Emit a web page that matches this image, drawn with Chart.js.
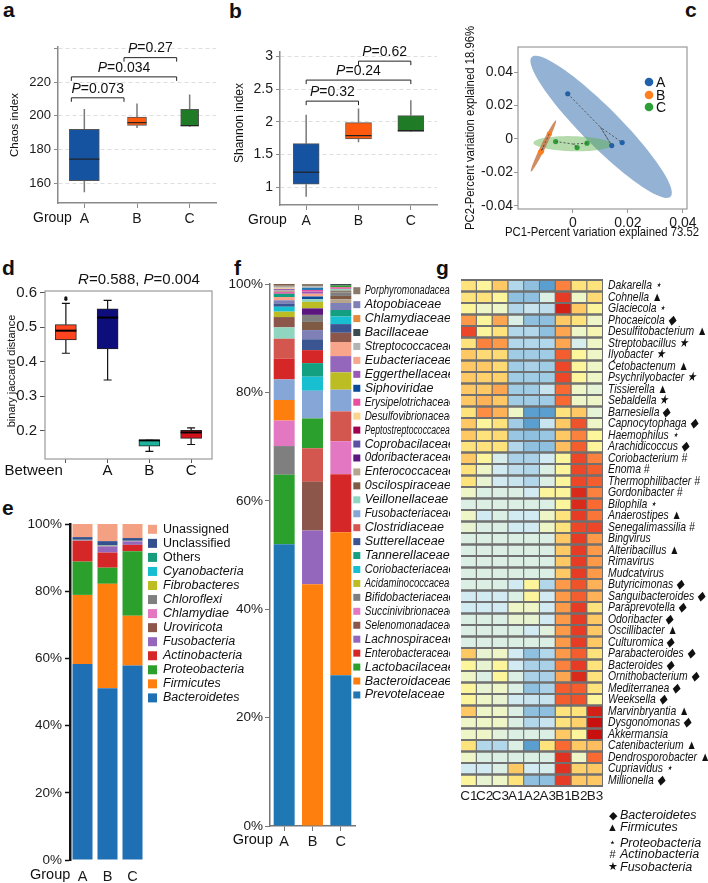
<!DOCTYPE html>
<html lang="en">
<head>
<meta charset="UTF-8">
<title>Gut microbiota of groups A, B and C</title>
<style>
    body, html { margin: 0; background: #fff; }
    body { position: relative; width: 708px; height: 883px; overflow: hidden;
           font-family: "Liberation Sans", Arial, sans-serif; }
    canvas { position: absolute; }
    .tag { position: absolute; font-size: 21px; line-height: 21px; font-weight: bold; color: #111; }
</style>
</head>
<body>
<div class="tag" style="left:3px;top:-1px">a</div>
<div class="tag" style="left:229px;top:0px">b</div>
<div class="tag" style="left:685px;top:-1px">c</div>
<div class="tag" style="left:2px;top:257px">d</div>
<div class="tag" style="left:2px;top:497px">e</div>
<div class="tag" style="left:234px;top:257px">f</div>
<div class="tag" style="left:436px;top:257px">g</div>

<canvas id="pa" width="232" height="240" style="left:0;top:0"></canvas>
<canvas id="pb" width="228" height="240" style="left:232px;top:0"></canvas>
<canvas id="pc" width="248" height="240" style="left:460px;top:0"></canvas>
<canvas id="pd" width="237" height="235" style="left:0;top:250px"></canvas>
<canvas id="pe" width="250" height="383" style="left:0;top:500px"></canvas>
<canvas id="pf" width="222" height="633" style="left:228px;top:250px"></canvas>
<canvas id="pg" width="253" height="633" style="left:455px;top:250px"></canvas>

<script src="https://cdn.jsdelivr.net/npm/chart.js"></script>
<script>
// ---------- a: Chaos index ----------
const groups = ['A', 'B', 'C'];
const chaosMin = [154.7, 192.8, 193.6];
const chaosQ1  = [161.6, 194.4, 194.0];
const chaosMed = [174.4, 196.0, 194.2];
const chaosQ3  = [192.1, 199.3, 203.9];
const chaosMax = [204.1, 207.4, 212.7];
const chaosTicks = [160, 180, 200, 220, 240];
const chaosP = ['0.073', '0.034', '0.27'];

// ---------- b: Shannon index ----------
const shannonMin = [0.856, 1.687, 1.846];
const shannonQ1  = [1.046, 1.738, 1.856];
const shannonMed = [1.23, 1.79, 1.867];
const shannonQ3  = [1.667, 1.99, 2.097];
const shannonMax = [2.11, 2.205, 2.333];
const shannonTicks = [1, 1.5, 2, 2.5, 3];
const shannonP = ['0.32', '0.24', '0.62'];
const testPairs = [[0, 1], [0, 2], [1, 2]];

// ---------- c: PCoA ----------
const pc1A = [-0.0019, 0.0141, 0.0179];
const pc2A = [0.027, -0.004, -0.0022];
const pc1B = [-0.0086, -0.0114, -0.0118];
const pc2B = [0.003, -0.0072, -0.008];
const pc1C = [-0.0063, 0.0015, 0.0051];
const pc2C = [-0.0016, -0.0052, -0.0026];
// confidence ellipses: centre, major and minor semi-axis vectors (data units)
const ellipseX = [0.01025, -0.01075, -0.0001];
const ellipseY = [0.0072, -0.0043, -0.0029];
const ellipseMajor = [[0.02525, -0.0418], [0.00455, 0.0153], [0.0143, -0.0006]];
const ellipseMinor = [[0.0049, 0.0081], [0.0008, -0.0006], [0.0002, 0.0045]];
const pcTicksX = [0, 0.02, 0.04];
const pcTicksY = [-0.04, -0.02, 0, 0.02, 0.04];

// ---------- d: binary jaccard distance ----------
const jacGroups = ['Between', 'A', 'B', 'C'];
const jacMin = [0.4246, 0.347, 0.140, 0.160];
const jacQ1  = [0.463, 0.437, 0.155, 0.178];
const jacMed = [0.490, 0.528, 0.172, 0.195];
const jacQ3  = [0.5075, 0.553, 0.172, 0.201];
const jacMax = [0.569, 0.578, 0.172, 0.208];
const jacOutliers = [0.581, 0.5855];   // group "Between"
const jacTicks = [0.2, 0.3, 0.4, 0.5, 0.6];

// ---------- e: phylum composition (stack bottom -> top) ----------
const phyla = ['Bacteroidetes', 'Firmicutes', 'Proteobacteria', 'Actinobacteria', 'Fusobacteria',
  'Uroviricota', 'Chlamydiae', 'Chloroflexi', 'Fibrobacteres', 'Cyanobacteria', 'Others',
  'Unclassified', 'Unassigned'];
const phylumA = [58.3, 20.6, 9.9, 6.2, 0.1, 0.05, 0.02, 0.05, 0.05, 0.02, 0.01, 0.8, 3.9];
const phylumB = [51.1, 31.1, 4.8, 4.5, 1.8, 0.1, 0.05, 0.1, 0.05, 0.05, 0.05, 1.2, 5.1];
const phylumC = [57.9, 14.8, 19.2, 1.9, 1.0, 0.05, 0.05, 0.05, 0.03, 0.02, 0.02, 0.8, 4.18];
const phylumColors = ['#1f6fb4', '#ff7f0e', '#2ca02c', '#d62728', '#9467bd', '#8c564b', '#e377c2',
  '#7f7f7f', '#bcbd22', '#17becf', '#179c7d', '#34508f', '#f4a083'];
const percentTicks = [0, 20, 40, 60, 80, 100];

// ---------- f: family composition ----------
const families = ['Porphyromonadaceae', 'Atopobiaceae', 'Chlamydiaceae', 'Bacillaceae', 'Streptococcaceae',
  'Eubacteriaceae', 'Eggerthellaceae', 'Siphoviridae', 'Erysipelotrichaceae', 'Desulfovibrionaceae',
  'Peptostreptococcaceae', 'Coprobacilaceae', '0doribacteraceae', 'Enterococcaceae', '0scilospiraceae',
  'Veillonellaceae', 'Fusobacteriaceae', 'Clostridiaceae', 'Sutterellaceae', 'Tannerellaceae',
  'Coriobacteriaceae', 'Acidaminococcaceae', 'Bifidobacteriaceae', 'Succinivibrionaceae', 'Selenomonadaceae',
  'Lachnospiraceae', 'Enterobacteraceae', 'Lactobacilaceae', 'Bacteroidaceae', 'Prevotelaceae'];
const familyColors = ['#8a7a6a', '#7f80b8', '#e58a3a', '#3c4b50', '#b0b4b4',
  '#f8a58c', '#9b58b5', '#0a4c99', '#ea4e9e', '#fdd48c',
  '#a10050', '#5c50a2', '#5c1680', '#b5a58c', '#7f5a44',
  '#90d5c0', '#86a6d8', '#d4574f', '#3a5592', '#12a080',
  '#18bfd0', '#bcbd22', '#7f7f7f', '#e377c2', '#8c564b',
  '#9467bd', '#d62728', '#2ca02c', '#ff7f0e', '#1f77b4'];
// each group stacked bottom -> top in its own order
const famA = ['Prevotelaceae', 'Lactobacilaceae', 'Bifidobacteriaceae', 'Succinivibrionaceae', 'Bacteroidaceae',
  'Fusobacteriaceae', 'Enterobacteraceae', 'Clostridiaceae', 'Veillonellaceae', 'Selenomonadaceae',
  'Acidaminococcaceae', 'Coriobacteriaceae', 'Sutterellaceae', 'Atopobiaceae', 'Eubacteriaceae',
  'Tannerellaceae', 'Erysipelotrichaceae', 'Enterococcaceae', 'Lachnospiraceae', 'Desulfovibrionaceae',
  'Streptococcaceae', 'Porphyromonadaceae', '0scilospiraceae'];
const shareA = [52.0, 12.8, 5.3, 4.7, 3.8, 3.8, 3.8, 3.7, 2.1, 1.9, 1.0, 0.9, 0.6, 0.6, 0.6, 0.6,
  0.3, 0.3, 0.3, 0.2, 0.2, 0.2, 0.3];
const famB = ['Bacteroidaceae', 'Lachnospiraceae', 'Selenomonadaceae', 'Clostridiaceae', 'Lactobacilaceae',
  'Fusobacteriaceae', 'Coriobacteriaceae', 'Tannerellaceae', 'Enterobacteraceae', 'Sutterellaceae',
  'Atopobiaceae', '0scilospiraceae', 'Bifidobacteriaceae', '0doribacteraceae', 'Acidaminococcaceae',
  'Veillonellaceae', 'Siphoviridae', 'Eubacteriaceae', 'Eggerthellaceae', 'Erysipelotrichaceae',
  'Prevotelaceae', 'Streptococcaceae', 'Porphyromonadaceae'];
const shareB = [44.6, 9.9, 9.0, 6.2, 5.5, 5.1, 2.6, 2.5, 2.4, 2.0, 1.7, 1.5, 1.3, 1.2, 1.2,
  0.5, 0.5, 0.5, 0.4, 0.3, 0.4, 0.3, 0.4];
const famC = ['Prevotelaceae', 'Bacteroidaceae', 'Enterobacteraceae', 'Succinivibrionaceae', 'Clostridiaceae',
  'Fusobacteriaceae', 'Acidaminococcaceae', 'Lachnospiraceae', 'Eubacteriaceae', 'Selenomonadaceae',
  'Sutterellaceae', 'Coriobacteriaceae', 'Tannerellaceae', 'Atopobiaceae', 'Enterococcaceae',
  '0scilospiraceae', 'Bifidobacteriaceae', 'Porphyromonadaceae', 'Veillonellaceae', 'Erysipelotrichaceae',
  'Lactobacilaceae', 'Bacillaceae'];
const shareC = [27.8, 26.4, 10.7, 6.1, 5.5, 4.0, 3.2, 3.0, 2.6, 1.7, 1.6, 1.4, 1.2, 1.3, 0.7,
  0.6, 0.6, 0.4, 0.3, 0.3, 0.3, 0.3];

// ---------- g: genus heatmap ----------
const samples = ['C1', 'C2', 'C3', 'A1', 'A2', 'A3', 'B1', 'B2', 'B3'];
const genera = ['Dakarella', 'Cohnella', 'Glaciecola', 'Phocaeicola', 'Desulfitobacterium', 'Streptobacillus',
  'Ilyobacter', 'Cetobactenum', 'Psychrilyobacter', 'Tissierella', 'Sebaldella', 'Barnesiella',
  'Capnocytophaga', 'Haemophilus', 'Arachidicoccus', 'Coriobacterium', 'Enoma', 'Thermophilibacter',
  'Gordonibacter', 'Bilophila', 'Anaerostipes', 'Senegalimassilia', 'Bingvirus', 'Alteribacillus',
  'Rimavirus', 'Mudcatvirus', 'Butyricimonas', 'Sanguibacteroides', 'Paraprevotella', 'Odoribacter',
  'Oscillibacter', 'Culturomica', 'Parabacteroides', 'Bacteroides', 'Ornithobacterium', 'Mediterranea',
  'Weeksella', 'Marvinbryantia', 'Dysgonomonas', 'Akkermansia', 'Catenibacterium', 'Dendrosporobacter',
  'Cupriavidus', 'Millionella'];
const genusPhylum = ['Proteobacteria', 'Firmicutes', 'Proteobacteria', 'Bacteroidetes', 'Firmicutes', 'Fusobacteria',
  'Fusobacteria', 'Firmicutes', 'Fusobacteria', 'Firmicutes', 'Fusobacteria', 'Bacteroidetes',
  'Bacteroidetes', 'Proteobacteria', 'Bacteroidetes', 'Actinobacteria', 'Actinobacteria', 'Actinobacteria',
  'Actinobacteria', 'Proteobacteria', 'Firmicutes', 'Actinobacteria', '', 'Firmicutes',
  '', '', 'Bacteroidetes', 'Bacteroidetes', 'Bacteroidetes', 'Bacteroidetes',
  'Firmicutes', 'Bacteroidetes', 'Bacteroidetes', 'Bacteroidetes', 'Bacteroidetes', 'Bacteroidetes',
  'Bacteroidetes', 'Firmicutes', 'Bacteroidetes', '', 'Firmicutes', 'Firmicutes',
  'Proteobacteria', 'Bacteroidetes'];
// row z-scores, columns in sample order
const heatValues = [
  [0.6, 0.3, 0.9, -0.8, -1.2, -1.6, 1.5, 0.6, 0.6],
  [0.6, 0.6, 0.3, -1.2, -1.2, -0.3, 2.1, 0, 0.7],
  [0.3, 0, 0, -0.8, -0.6, -0.7, 2.4, 0.9, 0.3],
  [1.3, 0.3, 1.2, -0.3, -1.2, -1.2, 0.9, 0.6, 0],
  [2.0, 0.3, 0.6, -0.8, -0.8, -1.2, 1.2, 0, 0.15],
  [0.6, 1.5, 1.3, -0.8, -0.8, -0.8, 1.2, -0.4, 0],
  [0.9, 0.7, 0.7, -1.0, -1.0, -1.0, 1.8, 0.3, 0],
  [0.9, 0.9, 0.7, -1.0, -0.9, -1.0, 2.0, 0.3, 0],
  [0.9, 0.8, 0.8, -1.0, -1.0, -1.0, 2.0, 0.3, 0],
  [0.9, 0.9, 1.2, -1.0, -1.0, -0.6, 1.7, 0, -0.15],
  [0.9, 1.1, 0.9, -1.0, -1.0, -1.0, 1.7, 0, 0],
  [0.6, 1.4, 1.1, 0, -1.6, -1.6, 0.6, 0.9, -0.15],
  [0.9, 0.3, 0.6, -1.0, -1.6, -0.6, 0.9, 1.9, 0],
  [0.9, 0.6, 0.7, -1.1, -1.2, -1.1, 0.9, 1.5, 0.3],
  [0.6, 0.6, 0.6, -0.8, -1.2, -1.2, 1.0, 1.8, 0.3],
  [0.9, 0.3, -0.4, -0.9, -0.9, -0.5, 0.3, 2.0, 1.5],
  [0.6, 0, -0.5, -0.7, -0.8, -0.3, 0.3, 2.0, 1.8],
  [0.6, -0.1, -0.5, -0.6, -0.8, -0.3, 0.3, 2.0, 1.8],
  [0, -0.3, -0.3, -0.3, -0.5, 0.3, 0.3, 2.3, 1.5],
  [-0.3, -0.3, -0.3, -0.3, -0.3, -0.3, 0.3, 2.3, 1.7],
  [0, -0.5, -0.3, -0.5, -0.5, 0, 0.6, 2.1, 1.6],
  [-0.1, -0.3, -0.3, -0.5, -0.5, 0, 0.6, 2.0, 2.0],
  [-0.3, -0.3, -0.3, -0.3, -0.3, -0.3, 0.9, 2.1, 1.3],
  [-0.3, -0.3, -0.3, -0.3, -0.3, -0.3, 0.9, 2.1, 1.3],
  [-0.3, -0.3, -0.3, -0.3, -0.3, -0.3, 0.9, 2.1, 1.3],
  [-0.3, -0.3, -0.3, -0.3, -0.3, -0.3, 0.9, 2.1, 1.3],
  [-0.3, -0.3, -0.3, -0.5, 0.3, -0.8, 1.3, 1.9, 1.1],
  [-0.5, -0.5, -0.5, -0.3, 0.3, -0.5, 1.3, 1.8, 1.1],
  [-0.5, -0.5, -0.5, 0, 0, -0.5, 1.3, 2.1, 0.6],
  [-0.3, -0.3, -0.3, -0.1, -0.1, -0.5, 1.3, 2.1, 0.9],
  [-0.3, -0.3, -0.3, -0.3, -0.5, -0.2, 1.3, 2.1, 0.9],
  [-0.3, -0.3, -0.3, -0.3, -0.3, -0.3, 1.3, 2.1, 0.9],
  [0.9, -0.1, 0, -0.5, -1.2, -0.8, 1.3, 1.8, 0.6],
  [0.3, -0.1, 0.3, -0.5, -0.9, -0.9, 1.5, 2.1, 0.6],
  [0, -0.3, 0.3, -0.3, -0.9, -0.9, 1.2, 2.3, 0.6],
  [0.3, -0.1, 0, -0.3, -1.2, -0.9, 1.8, 1.8, 0.6],
  [0.3, 0, -0.1, -0.5, -0.6, -0.6, 1.8, 1.9, 0.3],
  [0.9, 0, 0, -0.3, -1.2, -1.2, 0.6, 0.6, 2.4],
  [0, 0, 0, -0.3, -0.8, -0.6, 0.6, 0.8, 2.7],
  [0, 0, -0.2, -0.3, -0.3, -0.3, 0.9, 0.3, 2.7],
  [0.6, -0.8, -0.8, -0.3, -1.6, 0.6, 1.7, 0.9, 1.0],
  [0, -0.3, -0.3, -0.3, -0.3, -0.3, 2.2, 0, 1.7],
  [-0.5, -0.5, -0.3, 0.9, -0.5, -0.4, 2.2, 0.8, 0.9],
  [0.3, -0.1, 0, 0.6, -1.2, -1.2, 2.1, 0.9, 0.9]
];
const markerPhyla = ['Bacteroidetes', 'Firmicutes', 'Proteobacteria', 'Actinobacteria', 'Fusobacteria'];
const markerSymbols = ['\u25C6', '\u25B2', '\u22C6', '#', '\u2605'];
const heatStops = [[-1.6, '#5b9fd0'], [-1.2, '#8fc0e0'], [-0.8, '#b3d7ea'], [-0.5, '#d2eaf1'],
  [-0.3, '#dcefe4'], [0, '#eef6c8'], [0.3, '#fdf59c'], [0.6, '#fee27c'], [0.9, '#fec964'],
  [1.3, '#fd9a4a'], [1.7, '#f86a32'], [2.1, '#e63b24'], [2.6, '#c8100e']];

// ================= helpers =================
const FONT = '"Liberation Sans", Arial, sans-serif';
Chart.defaults.font.family = FONT;
Chart.defaults.color = '#1a1a1a';
Chart.defaults.animation = false;
Chart.defaults.responsive = false;
Chart.defaults.plugins.legend.display = false;
Chart.defaults.plugins.tooltip.enabled = false;

// fixed axis sizes so the plot areas land where the figure has them
const fitW = w => s => { s.width = w; };
const fitH = h => s => { s.height = h; };
const fixTicks = list => s => { s.ticks = list.map(v => ({ value: v })); };

// draw a run of text pieces [[text, italic], ...] as one line
function runText(ctx, parts, x, y, size, align, maxW) {
    const fonts = parts.map(p => (p[1] ? 'italic ' : '') + size + 'px ' + FONT);
    const widths = parts.map((p, i) => { ctx.font = fonts[i]; return ctx.measureText(p[0]).width; });
    let total = widths.reduce((a, b) => a + b, 0);
    const squeeze = maxW && total > maxW ? maxW / total : 1;
    total *= squeeze;
    let cx = align === 'center' ? x - total / 2 : align === 'right' ? x - total : x;
    ctx.textAlign = 'left';
    ctx.textBaseline = 'middle';
    ctx.fillStyle = '#111';
    parts.forEach((p, i) => {
        ctx.font = fonts[i];
        ctx.fillText(p[0], cx, y, widths[i] * squeeze);
        cx += widths[i] * squeeze;
    });
}

function hexRgb(h) { return [1, 3, 5].map(i => parseInt(h.substr(i, 2), 16)); }
function heatColor(z) {
    const s = heatStops;
    if (z <= s[0][0]) return s[0][1];
    for (let i = 1; i < s.length; i++) {
        if (z <= s[i][0]) {
            const t = (z - s[i - 1][0]) / (s[i][0] - s[i - 1][0]);
            const a = hexRgb(s[i - 1][1]), b = hexRgb(s[i][1]);
            return 'rgb(' + a.map((v, k) => Math.round(v + (b[k] - v) * t)).join(',') + ')';
        }
    }
    return s[s.length - 1][1];
}

// free captions: {parts, x, y, size, align, rot}
function captions(id, items) {
    return {
        id: id,
        afterDraw(chart) {
            const ctx = chart.ctx;
            items.forEach(t => {
                ctx.save();
                ctx.translate(t.x, t.y);
                if (t.rot) ctx.rotate(-Math.PI / 2);
                runText(ctx, t.parts, 0, 0, t.size, t.align || 'left');
                ctx.restore();
            });
        }
    };
}

// whiskers, medians and outliers around floating-bar boxes
function boxParts(o) {
    return {
        id: 'boxParts',
        beforeDatasetsDraw(chart) {
            const { ctx, scales: { x, y } } = chart;
            ctx.save();
            ctx.strokeStyle = o.whisker;
            ctx.lineWidth = o.whiskerWidth;
            o.min.forEach((mn, i) => {
                const px = x.getPixelForValue(i);
                ctx.beginPath();
                ctx.moveTo(px, y.getPixelForValue(o.max[i])); ctx.lineTo(px, y.getPixelForValue(o.q3[i]));
                ctx.moveTo(px, y.getPixelForValue(o.q1[i])); ctx.lineTo(px, y.getPixelForValue(mn));
                if (o.cap) {
                    [o.max[i], mn].forEach(v => {
                        const py = y.getPixelForValue(v);
                        ctx.moveTo(px - o.cap, py); ctx.lineTo(px + o.cap, py);
                    });
                }
                ctx.stroke();
            });
            ctx.restore();
        },
        afterDatasetsDraw(chart) {
            const { ctx, scales: { x, y } } = chart;
            ctx.save();
            ctx.strokeStyle = o.median;
            ctx.lineWidth = o.medianWidth;
            o.med.forEach((m, i) => {
                const bar = chart.getDatasetMeta(i).data[i];
                const py = y.getPixelForValue(m);
                ctx.beginPath();
                ctx.moveTo(bar.x - bar.width / 2, py); ctx.lineTo(bar.x + bar.width / 2, py);
                ctx.stroke();
            });
            (o.outliers || []).forEach(([i, v]) => {
                ctx.beginPath();
                ctx.fillStyle = '#111';
                ctx.arc(x.getPixelForValue(i), y.getPixelForValue(v), 1.6, 0, 2 * Math.PI);
                ctx.fill();
            });
            if (o.frame) {
                const a = chart.chartArea;
                ctx.strokeStyle = o.frame; ctx.lineWidth = 1.2;
                ctx.strokeRect(a.left, a.top, a.right - a.left, a.bottom - a.top);
            }
            ctx.restore();
        }
    };
}

function brackets(o) {
    return {
        id: 'brackets',
        afterDatasetsDraw(chart) {
            const { ctx, scales: { x, y } } = chart;
            ctx.save();
            ctx.strokeStyle = '#222';
            ctx.lineWidth = 1;
            o.pairs.forEach(([i, j], k) => {
                const x1 = x.getPixelForValue(i) + o.shift, x2 = x.getPixelForValue(j) + o.shift;
                const py = y.getPixelForValue(o.levels[k]);
                ctx.beginPath();
                ctx.moveTo(x1, py + 4); ctx.lineTo(x1, py); ctx.lineTo(x2, py); ctx.lineTo(x2, py + 4);
                ctx.stroke();
                runText(ctx, [['P', true], ['=' + o.p[k], false]], (x1 + x2) / 2, py - 9, 14, 'center');
            });
            ctx.restore();
        }
    };
}

function boxChart(id, o) {
    return new Chart(document.getElementById(id), {
        type: 'bar',
        data: {
            labels: o.labels,
            datasets: o.labels.map((g, i) => ({
                data: o.labels.map((_, k) => k === i ? [o.q1[i], o.q3[i]] : null),
                backgroundColor: o.colors[i],
                borderColor: o.edge,
                borderWidth: 1,
                borderSkipped: false,
                grouped: false,
                barThickness: o.widths[i]
            }))
        },
        options: {
            layout: { padding: o.pad },
            scales: { x: o.x, y: o.y }
        },
        plugins: [boxParts(o)].concat(o.extra)
    });
}

// ================= a =================
const softAxis = '#8a8a8a';
boxChart('pa', {
    labels: groups, min: chaosMin, q1: chaosQ1, med: chaosMed, q3: chaosQ3, max: chaosMax,
    colors: ['#1553a0', '#ff5a0e', '#1f7b25'], edge: '#555', widths: [30, 19, 18],
    whisker: '#7a7a7a', whiskerWidth: 1.5, median: '#222', medianWidth: 1.2,
    pad: { left: 0, top: 47, right: 16, bottom: 0 },
    x: { grid: { drawOnChartArea: false, offset: false, tickLength: 5, color: softAxis },
         border: { color: softAxis, width: 1.5 },
         ticks: { font: { size: 14 }, padding: 3, maxRotation: 0 }, afterFit: fitH(37) },
    y: { min: 148.4, max: 240.8, afterBuildTicks: fixTicks(chaosTicks),
         ticks: { font: { size: 13 }, padding: 3, callback: v => v === 240 ? '' : v },
         grid: { color: '#dedede', tickColor: softAxis, tickLength: 4 },
         border: { color: softAxis, width: 1.5, dash: [4, 3] }, afterFit: fitW(58) },
    extra: [
        brackets({ pairs: testPairs, levels: [210.7, 223.1, 234.5], p: chaosP, shift: -13 }),
        captions('capA', [
            { parts: [['Chaos index', false]], x: 15, y: 125, size: 11.5, align: 'center', rot: true },
            { parts: [['Group', false]], x: 33, y: 218, size: 14 }
        ])
    ]
});

// ================= b =================
boxChart('pb', {
    labels: groups, min: shannonMin, q1: shannonQ1, med: shannonMed, q3: shannonQ3, max: shannonMax,
    colors: ['#1553a0', '#ff5a0e', '#1f7b25'], edge: '#555', widths: [26, 26, 26],
    whisker: '#7a7a7a', whiskerWidth: 1.5, median: '#222', medianWidth: 1.2,
    pad: { left: 0, top: 52, right: 23, bottom: 0 },
    x: { grid: { drawOnChartArea: false, offset: false, tickLength: 5, color: softAxis },
         border: { color: softAxis, width: 1.5 },
         ticks: { font: { size: 14 }, padding: 3, maxRotation: 0 }, afterFit: fitH(35) },
    y: { min: 0.728, max: 3.07, afterBuildTicks: fixTicks(shannonTicks),
         ticks: { font: { size: 14 }, padding: 3, callback: v => String(v) },
         grid: { color: '#dedede', tickColor: softAxis, tickLength: 4 },
         border: { color: softAxis, width: 1.5, dash: [4, 3] }, afterFit: fitW(48) },
    extra: [
        brackets({ pairs: testPairs, levels: [2.318, 2.64, 2.93], p: shannonP, shift: 0 }),
        captions('capB', [
            { parts: [['Shannon index', false]], x: 8, y: 123, size: 12, align: 'center', rot: true },
            { parts: [['Group', false]], x: 16, y: 220, size: 14 }
        ])
    ]
});

// ================= c =================
const pcoaColors = ['#1f62ab', '#ff7f1e', '#2c9e36'];
const pcoaSets = [[pc1A, pc2A], [pc1B, pc2B], [pc1C, pc2C]];
const pcoaPoints = pcoaSets.map(([xs, ys]) => xs.map((v, i) => ({ x: v, y: ys[i] })));
const centroids = pcoaPoints.map(pts => ({
    x: pts.reduce((s, p) => s + p.x, 0) / pts.length,
    y: pts.reduce((s, p) => s + p.y, 0) / pts.length
}));
const pcoaDecor = {
    id: 'pcoaDecor',
    beforeDatasetsDraw(chart) {
        const { ctx, scales: { x, y } } = chart;
        const fills = ['rgba(60,115,175,0.55)', 'rgba(200,120,70,0.85)', 'rgba(90,175,70,0.45)'];
        ctx.save();
        [0, 2, 1].forEach(g => {
            const u = ellipseMajor[g], v = ellipseMinor[g];
            ctx.beginPath();
            for (let t = 0; t <= 90; t++) {
                const a = t / 90 * 2 * Math.PI;
                const px = x.getPixelForValue(ellipseX[g] + u[0] * Math.cos(a) + v[0] * Math.sin(a));
                const py = y.getPixelForValue(ellipseY[g] + u[1] * Math.cos(a) + v[1] * Math.sin(a));
                if (t) ctx.lineTo(px, py); else ctx.moveTo(px, py);
            }
            ctx.closePath();
            ctx.fillStyle = fills[g];
            ctx.fill();
        });
        ctx.restore();
    },
    afterDraw(chart) {
        const { ctx, chartArea: a } = chart;
        ctx.save();
        ctx.strokeStyle = '#999'; ctx.lineWidth = 1.2;
        ctx.strokeRect(a.left, a.top, a.right - a.left, a.bottom - a.top);
        [82, 95, 107].forEach((yy, g) => {
            ctx.beginPath(); ctx.fillStyle = pcoaColors[g];
            ctx.arc(189, yy, 4.3, 0, 2 * Math.PI); ctx.fill();
            runText(ctx, [[groups[g], false]], 196, yy + 1, 14, 'left');
        });
        ctx.translate(10, 128); ctx.rotate(-Math.PI / 2); ctx.scale(0.84, 1);
        runText(ctx, [['PC2-Percent variation explained 18.96%', false]], 0, 0, 13.5, 'center');
        ctx.restore();
        ctx.save();
        ctx.translate(142, 232); ctx.scale(0.84, 1);
        runText(ctx, [['PC1-Percent variation explained 73.52', false]], 0, 0, 13.5, 'center');
        ctx.restore();
    }
};
const pcFmt = v => Math.abs(v) < 1e-9 ? '0' : String(+v.toFixed(2));
new Chart(document.getElementById('pc'), {
    type: 'scatter',
    data: {
        datasets: pcoaPoints.map((pts, g) => ({
            data: [pts[0], centroids[g], pts[1], centroids[g], pts[2]],
            showLine: true, borderColor: '#555', borderWidth: 1, borderDash: [2, 2], pointRadius: 0
        })).concat(pcoaPoints.map((pts, g) => ({
            data: pts, pointRadius: 2.6, backgroundColor: pcoaColors[g], borderWidth: 0
        })))
    },
    options: {
        layout: { padding: { left: 0, right: 21, top: 47, bottom: 0 } },
        scales: {
            x: { type: 'linear', min: -0.02, max: 0.0415, afterBuildTicks: fixTicks(pcTicksX),
                 ticks: { callback: pcFmt, font: { size: 14 }, padding: 2, maxRotation: 0 },
                 grid: { drawOnChartArea: false, tickLength: 4, color: '#999' },
                 border: { display: false }, afterFit: fitH(31) },
            y: { min: -0.042, max: 0.055, afterBuildTicks: fixTicks(pcTicksY),
                 ticks: { callback: pcFmt, font: { size: 14 }, padding: 1 },
                 grid: { drawOnChartArea: false, tickLength: 4, color: '#999' },
                 border: { display: false }, afterFit: fitW(58) }
        }
    },
    plugins: [pcoaDecor]
});

// ================= d =================
const jacLabels = {
    id: 'jacLabels',
    afterDraw(chart) {
        const { ctx, scales: { x } } = chart;
        ctx.save();
        jacGroups.forEach((g, i) => {
            const px = x.getPixelForValue(i);
            runText(ctx, [[g, false]], i === 0 ? px - 3 : px, 221, 15, i === 0 ? 'right' : 'center');
        });
        runText(ctx, [['R', true], ['=0.588, ', false], ['P', true], ['=0.004', false]], 139, 30, 15, 'center');
        ctx.translate(12, 121); ctx.rotate(-Math.PI / 2);
        runText(ctx, [['binary jaccard distance', false]], 0, 0, 11, 'center');
        ctx.restore();
    }
};
boxChart('pd', {
    labels: jacGroups, min: jacMin, q1: jacQ1, med: jacMed, q3: jacQ3, max: jacMax,
    outliers: jacOutliers.map(v => [0, v]),
    colors: ['#ff4520', '#0d0d7c', '#1fb39b', '#d1101b'], edge: '#222', widths: [21, 21, 21, 21],
    whisker: '#111', whiskerWidth: 1.2, cap: 4, median: '#000', medianWidth: 2, frame: '#999',
    pad: { left: 0, top: 41, right: 25, bottom: 0 },
    x: { grid: { drawOnChartArea: false, offset: false, tickLength: 4, color: '#555' },
         border: { display: false }, ticks: { display: false }, afterFit: fitH(26) },
    y: { min: 0.118, max: 0.605, afterBuildTicks: fixTicks(jacTicks),
         ticks: { font: { size: 15 }, padding: 3, callback: v => String(v) },
         grid: { drawOnChartArea: false, tickLength: 5, color: '#555' },
         border: { display: false }, afterFit: fitW(45) },
    extra: [jacLabels]
});

// ================= e =================
const phylumRows = [phylumA, phylumB, phylumC];
const phylumLegend = {
    id: 'phylumLegend',
    afterDraw(chart) {
        const ctx = chart.ctx;
        ctx.save();
        phyla.map((p, k) => k).reverse().forEach((k, r) => {
            const yc = 29.3 + r * 14.05;
            ctx.fillStyle = phylumColors[k];
            ctx.fillRect(148, yc - 4.5, 9, 9);
            runText(ctx, [[phyla[k], k < 10]], 163, yc, 12.5, 'left');
        });
        runText(ctx, [['Group', false]], 30, 375, 14.5, 'left');
        ctx.restore();
    }
};
new Chart(document.getElementById('pe'), {
    type: 'bar',
    data: {
        labels: groups,
        datasets: phyla.map((p, k) => ({
            label: p,
            data: phylumRows.map(r => r[k]),
            backgroundColor: phylumColors[k],
            barPercentage: 0.8, categoryPercentage: 1, borderWidth: 0
        }))
    },
    options: {
        layout: { padding: { left: 0, top: 24, right: 105, bottom: 0 } },
        scales: {
            x: { stacked: true, grid: { display: false, drawTicks: false }, border: { display: false },
                 ticks: { font: { size: 14.5 }, padding: 8, maxRotation: 0 }, afterFit: fitH(23) },
            y: { stacked: true, min: 0, max: 100, afterBuildTicks: fixTicks(percentTicks),
                 ticks: { callback: v => v + '%', font: { size: 13.5 }, padding: 3 },
                 grid: { drawOnChartArea: false, tickLength: 5, color: '#111', tickWidth: 1.5 },
                 border: { color: '#111', width: 2.5 }, afterFit: fitW(70) }
        }
    },
    plugins: [phylumLegend]
});

// ================= f =================
const familyColor = {};
families.forEach((f, i) => { familyColor[f] = familyColors[i]; });
const famStacks = [famA, famB, famC];
const shareStacks = [shareA, shareB, shareC];
const depth = Math.max(...shareStacks.map(s => s.length));
const familyLegend = {
    id: 'familyLegend',
    afterDraw(chart) {
        const ctx = chart.ctx;
        ctx.save();
        families.forEach((f, r) => {
            const yc = 40.7 + r * 13.94;
            ctx.fillStyle = familyColors[r];
            ctx.fillRect(125.3, yc - 3.5, 7, 7);
            runText(ctx, [[f, true]], 136.7, yc, 12.5, 'left', 90);
        });
        runText(ctx, [['Group', false]], 45, 590, 14.5, 'right');
        ctx.restore();
    }
};
new Chart(document.getElementById('pf'), {
    type: 'bar',
    data: {
        labels: groups,
        datasets: Array.from({ length: depth }, (_, k) => ({
            data: shareStacks.map(s => s[k] || 0),
            backgroundColor: famStacks.map(f => familyColor[f[k]] || 'rgba(0,0,0,0)'),
            barPercentage: 0.74, categoryPercentage: 1, borderWidth: 0
        }))
    },
    options: {
        layout: { padding: { left: 0, top: 34, right: 95, bottom: 0 } },
        scales: {
            x: { stacked: true, grid: { drawOnChartArea: false, offset: false, tickLength: 5, color: '#777' },
                 border: { color: '#777', width: 1.5 },
                 ticks: { font: { size: 14.5 }, padding: 2, maxRotation: 0 }, afterFit: fitH(57) },
            y: { stacked: true, min: 0, max: 100, afterBuildTicks: fixTicks(percentTicks),
                 ticks: { callback: v => v + '%', font: { size: 13.5 }, padding: 2 },
                 grid: { drawOnChartArea: false, tickLength: 5, color: '#777' },
                 border: { color: '#777', width: 1.5 }, afterFit: fitW(42) }
        }
    },
    plugins: [familyLegend]
});

// ================= g =================
const heatDecor = {
    id: 'heatDecor',
    beforeDatasetsDraw(chart) {
        const { ctx, chartArea: a } = chart;
        ctx.save();
        ctx.fillStyle = '#707070';
        ctx.fillRect(a.left, a.top - 1, a.right - a.left, a.bottom - a.top + 2);
        ctx.restore();
    },
    afterDraw(chart) {
        const { ctx, chartArea: a, scales: { y } } = chart;
        ctx.save();
        genera.forEach((g, i) => {
            const k = markerPhyla.indexOf(genusPhylum[i]);
            ctx.save();
            ctx.translate(a.right + 5, y.getPixelForValue(i));
            ctx.scale(0.8, 1);
            runText(ctx, [[g + (k >= 0 ? ' ' + markerSymbols[k] : ''), true]], 0, 0, 13, 'left');
            ctx.restore();
        });
        [565.7, 577.7, 593.3, 605, 617.3].forEach((yy, k) => {
            runText(ctx, [[markerSymbols[k], false]], 157.5, yy, 11, 'center');
            runText(ctx, [[markerPhyla[k], true]], 165, yy, 12.5, 'left');
        });
        ctx.restore();
    }
};
new Chart(document.getElementById('pg'), {
    type: 'bar',
    data: {
        labels: genera,
        datasets: samples.map((s, j) => ({
            label: s,
            data: genera.map(() => 1),
            backgroundColor: heatValues.map(r => heatColor(r[j])),
            borderColor: 'rgba(105,105,105,0.35)',
            borderWidth: { left: 0, right: 1, top: 0, bottom: 0 },
            borderSkipped: false,
            barPercentage: 0.83, categoryPercentage: 1
        }))
    },
    options: {
        indexAxis: 'y',
        layout: { padding: { left: 6, right: 0, top: 30, bottom: 0 } },
        scales: {
            x: { type: 'linear', stacked: true, min: 0, max: 9,
                 afterBuildTicks: s => { s.ticks = samples.map((_, j) => ({ value: j + 0.5 })); },
                 ticks: { callback: v => samples[Math.floor(v)], font: { size: 13.5 }, padding: 2,
                          maxRotation: 0, autoSkip: false },
                 grid: { display: false, drawTicks: false }, border: { display: false }, afterFit: fitH(97) },
            y: { stacked: true, position: 'right', ticks: { display: false },
                 grid: { display: false, drawTicks: false }, border: { display: false }, afterFit: fitW(105) }
        }
    },
    plugins: [heatDecor]
});
</script>
</body>
</html>
